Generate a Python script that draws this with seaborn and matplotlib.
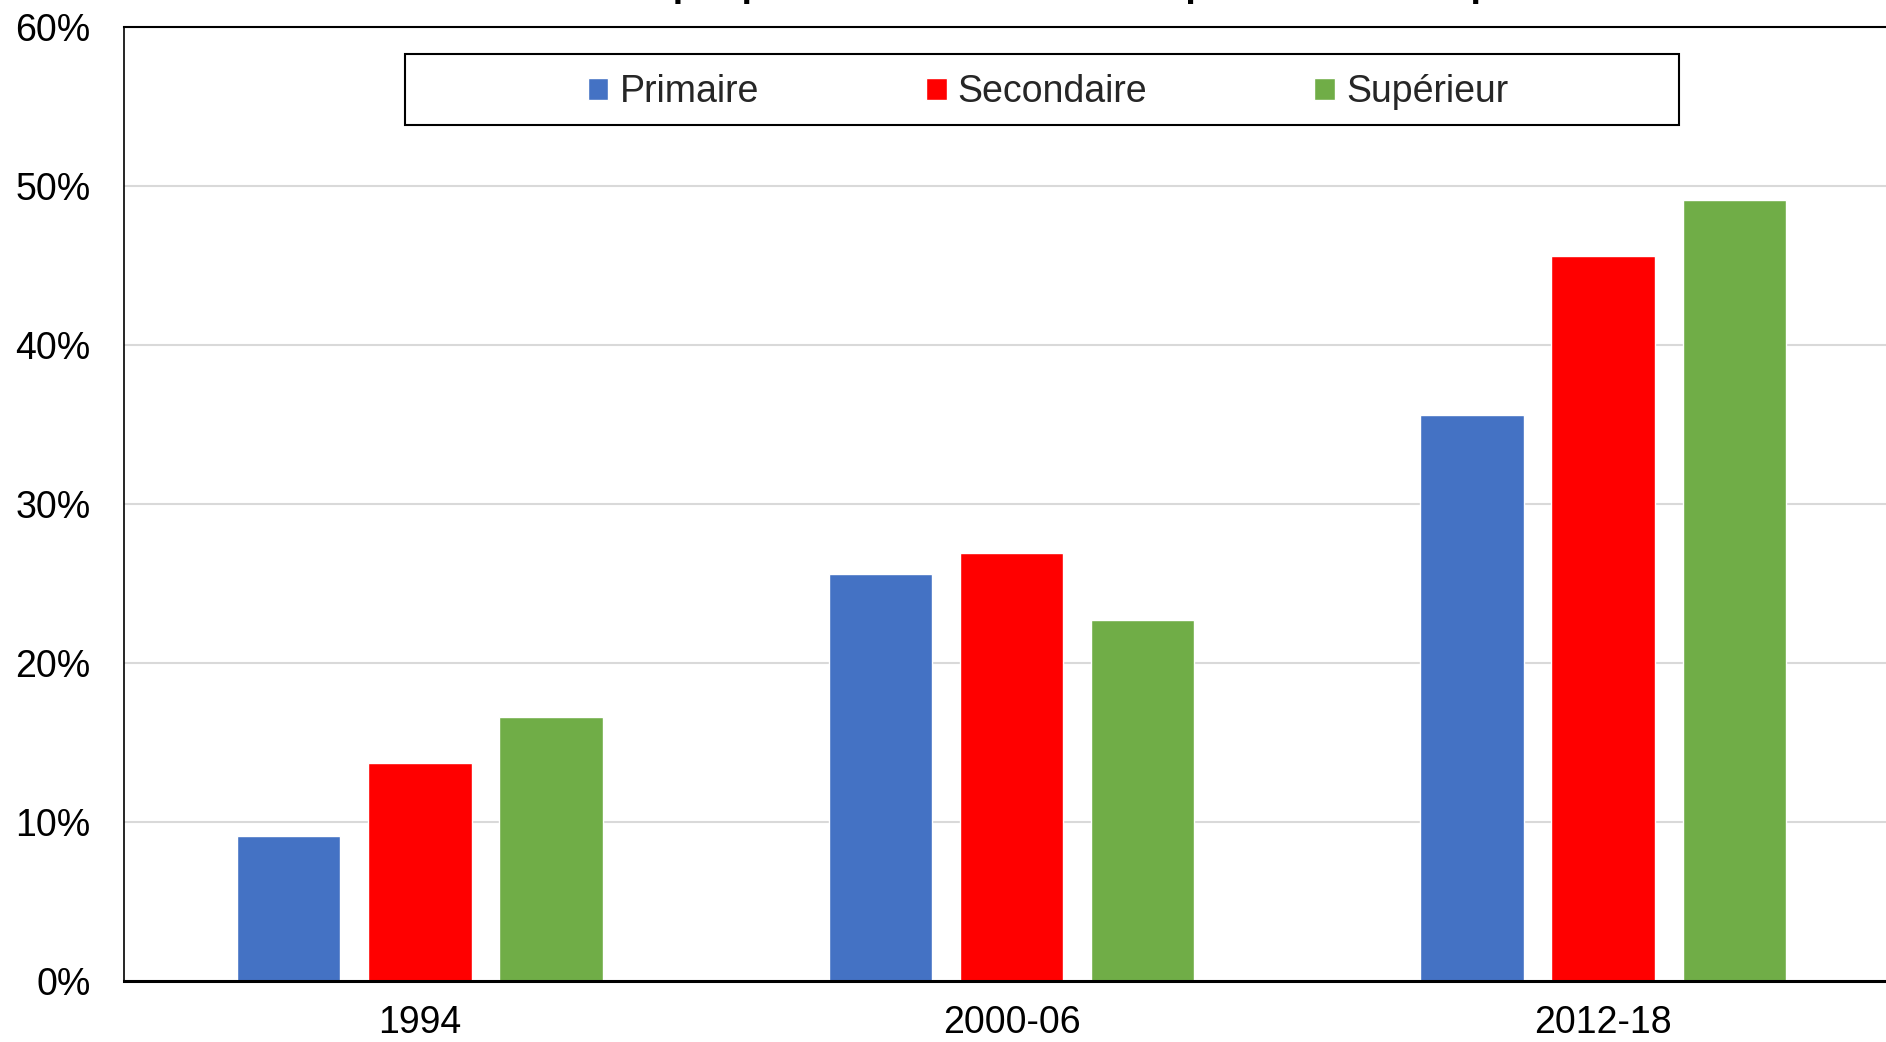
import matplotlib
matplotlib.use("Agg")
import matplotlib.pyplot as plt
import seaborn as sns
import pandas as pd
from matplotlib.patches import Rectangle
from matplotlib.ticker import FuncFormatter

periods = ["1994", "2000-06", "2012-18"]
levels = ["Primaire", "Secondaire", "Supérieur"]
primaire = [9.1, 25.6, 35.6]
secondaire = [13.7, 26.9, 45.6]
superieur = [16.6, 22.7, 49.1]
colors = ["#4472C4", "#FF0000", "#70AD47"]
title = "Graphique 1 : Évolution du taux par niveau de diplôme"

rows = []
for lvl, vals in zip(levels, [primaire, secondaire, superieur]):
    for p, v in zip(periods, vals):
        rows.append({"period": p, "level": lvl, "value": v})
df = pd.DataFrame(rows)

sns.set_theme(style="white")
plt.rcParams["font.family"] = ["Liberation Sans", "DejaVu Sans"]

W, H = 1886, 1042
fig = plt.figure(figsize=(W / 100, H / 100), dpi=100)
ax_l, ax_r, ax_t, ax_b = 124, 1899, 27, 981
ax = fig.add_axes([ax_l / W, 1 - ax_b / H, (ax_r - ax_l) / W, (ax_b - ax_t) / H])

sns.barplot(data=df, x="period", y="value", hue="level", order=periods,
            hue_order=levels, palette=colors, width=0.665, gap=0.21,
            saturation=1, errorbar=None, ax=ax, legend=True)

ax.set_xlim(-0.5, 2.5)
ax.set_ylim(0, 60)
ax.set_yticks(range(0, 61, 10))
ax.yaxis.set_major_formatter(FuncFormatter(lambda v, _: f"{int(v)}%"))
ax.set_xlabel("")
ax.set_ylabel("")
ax.grid(axis="y", color="#d9d9d9", linewidth=1.5)
ax.set_axisbelow(True)
for s in ["left", "top", "bottom"]:
    ax.spines[s].set_visible(True)
    ax.spines[s].set_color("black")
ax.spines["left"].set_linewidth(1.2)
ax.spines["top"].set_linewidth(1.5)
ax.spines["bottom"].set_linewidth(2.2)
ax.spines["right"].set_visible(False)
ax.tick_params(axis="y", length=0, pad=24, labelsize=27, colors="black")
ax.tick_params(axis="x", length=0, pad=17, labelsize=27, colors="black")

# legend frame
x0 = (405 - ax_l) / (ax_r - ax_l)
x1 = (1679 - ax_l) / (ax_r - ax_l)
y1 = (ax_b - 54) / (ax_b - ax_t)
y0 = (ax_b - 125) / (ax_b - ax_t)
ax.add_patch(Rectangle((x0, y0), x1 - x0, y1 - y0, transform=ax.transAxes,
                       fill=True, facecolor="white", edgecolor="black",
                       linewidth=1.5, zorder=5))
handles, labels = ax.get_legend_handles_labels()
leg = ax.legend(handles, labels, loc="center", bbox_to_anchor=(0.5206, (y0 + y1) / 2 - 0.003),
                ncol=3, frameon=False, fontsize=27, handlelength=0.55,
                handleheight=0.55, handletextpad=0.3, columnspacing=4.45)
leg.set_zorder(6)

fig.text(1095 / W, 1 + 4 / H, title, ha="center", va="baseline",
         fontsize=27, fontweight="bold", color="black")

fig.savefig("out.png", dpi=100)
